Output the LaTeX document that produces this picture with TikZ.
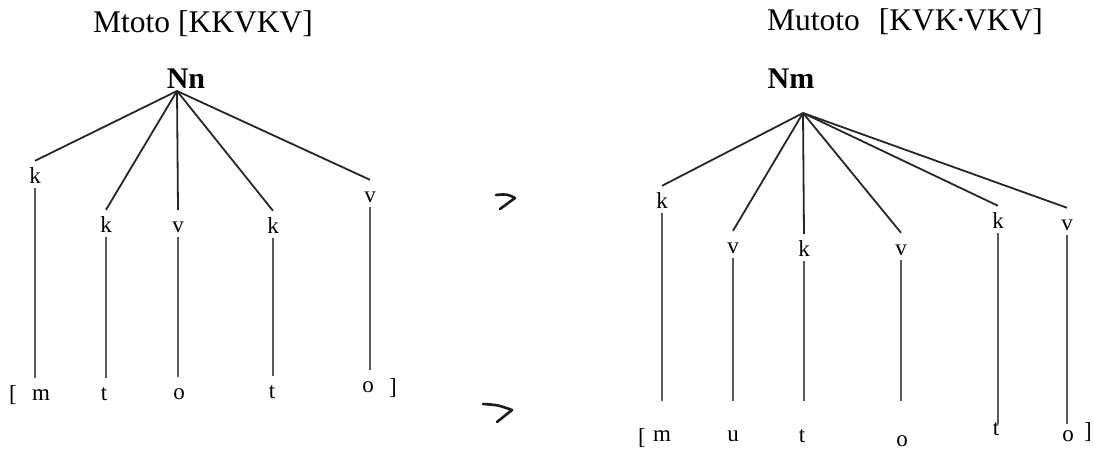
\documentclass[tikz,border=0pt]{standalone}
\usepackage{fontspec}
\setmainfont{Liberation Serif}
\usetikzlibrary{positioning}

\begin{document}
\begin{tikzpicture}[x=1pt,y=-1pt,
  ttl/.style={anchor=base,inner sep=0pt,font=\fontsize{31.5}{36}\selectfont},
  rt/.style={anchor=base,inner sep=0pt,font=\fontsize{30}{36}\selectfont\bfseries},
  seg/.style={anchor=base,inner xsep=0pt,inner ysep=5pt,text height=17pt,text depth=0pt,
    font=\fontsize{23}{28}\selectfont},
  br/.style={line width=1.8pt,black!85},
  st/.style={line width=1.1pt,black!65},
  mk/.style={line width=2.6pt,line cap=round,line join=round,black!90}]
\useasboundingbox (0,0) rectangle (1093,458);
% left tree
\node[ttl] (Ltitle) at (203,32) {Mtoto [KKVKV]};
\node[rt] (Lroot) at (186,88) {Nn};
\coordinate (Lapex) at (177,91);
\node[seg] (Lk1) at (35,183) {k};
\node[seg] (Lk2) at (106,232) {k};
\node[seg] (Lv1) at (178,232) {v};
\node[seg] (Lk3) at (273,233) {k};
\node[seg] (Lv2) at (370,202) {v};
\node[seg] (Lob) at (13,401) {[};
\node[seg] (Lm) at (41,400) {m};
\node[seg] (Lt1) at (104,400) {t};
\node[seg] (Lo1) at (179,399) {o};
\node[seg] (Lt2) at (272,398) {t};
\node[seg] (Lo2) at (368,392) {o};
\node[seg] (Lcb) at (393,394) {]};
\foreach \c in {Lk1,Lk2,Lv1,Lk3,Lv2}
  \draw[br] (Lapex) -- (\c.north);
\draw[st] (Lk1.south) -- (Lk1.south |- Lm.north);
\draw[st] (Lk2.south) -- (Lk2.south |- Lt1.north);
\draw[st] (Lv1.south) -- (Lv1.south |- Lo1.north);
\draw[st] (Lk3.south) -- (Lk3.south |- Lt2.north);
\draw[st] (Lv2.south) -- (Lv2.south |- Lo2.north);
% marks
\draw[mk] (496,195) .. controls (507,194) .. (515,198) -- (500,209);
\draw[mk] (483,404) .. controls (498,405) .. (512,410) -- (497,422);
% right tree
\node[ttl] (Rtitle) at (905,30) {Mutoto\hspace{19pt}[KVK\kern-2pt·\kern-2pt VKV]};
\node[rt] (Rroot) at (791,88) {Nm};
\coordinate (Rapex) at (803,113);
\node[seg] (Rk1) at (662,208) {k};
\node[seg] (Rv1) at (733,253) {v};
\node[seg] (Rk2) at (804,256) {k};
\node[seg] (Rv2) at (901,255) {v};
\node[seg] (Rk3) at (998,228) {k};
\node[seg] (Rv3) at (1067,230) {v};
\node[seg] (Rob) at (642,444) {[};
\node[seg] (Rm) at (662,441) {m};
\node[seg] (Ru) at (733,441) {u};
\node[seg] (Rt1) at (802,442) {t};
\node[seg] (Ro1) at (902,446) {o};
\node[seg] (Rt2) at (996,435) {t};
\node[seg] (Ro2) at (1068,441) {o};
\node[seg] (Rcb) at (1088,438) {]};
\coordinate (Rbase) at (0,401);
\coordinate (Rlow) at (0,424);
\foreach \c in {Rk1,Rv1,Rk2,Rv2,Rk3,Rv3}
  \draw[br] (Rapex) -- (\c.north);
\foreach \c in {Rk1,Rv1,Rk2,Rv2}
  \draw[st] (\c.south) -- (\c.south |- Rbase);
\foreach \c in {Rk3,Rv3}
  \draw[st] (\c.south) -- (\c.south |- Rlow);
\end{tikzpicture}
\end{document}
